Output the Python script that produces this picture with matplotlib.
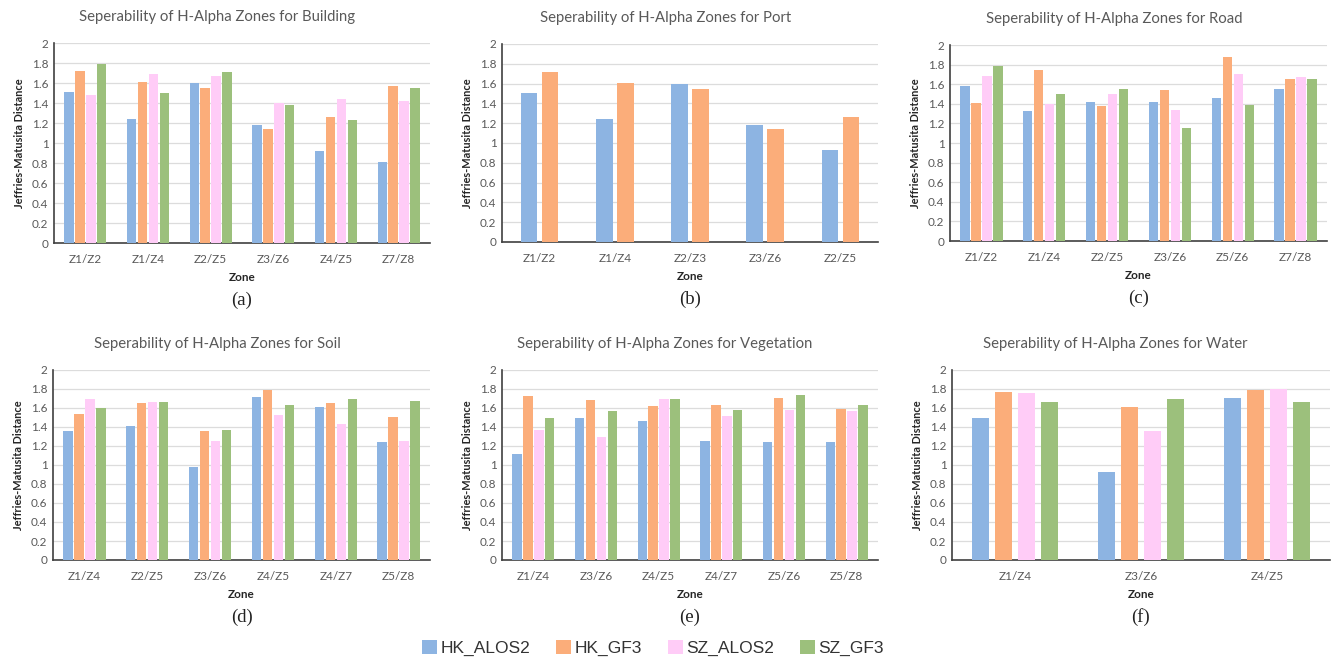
import matplotlib
matplotlib.use("Agg")
import matplotlib.pyplot as plt
import numpy as np
from matplotlib.patches import Patch

SERIES = ["HK_ALOS2", "HK_GF3", "SZ_ALOS2", "SZ_GF3"]
COLORS = ["#8db4e2", "#fbad7a", "#ffccf7", "#9cc07c"]

building_zones = ["Z1/Z2", "Z1/Z4", "Z2/Z5", "Z3/Z6", "Z4/Z5", "Z7/Z8"]
building_hk_alos2 = [1.51, 1.24, 1.60, 1.18, 0.92, 0.81]
building_hk_gf3 = [1.72, 1.61, 1.55, 1.14, 1.26, 1.57]
building_sz_alos2 = [1.48, 1.69, 1.67, 1.40, 1.44, 1.42]
building_sz_gf3 = [1.79, 1.50, 1.71, 1.38, 1.23, 1.55]

port_zones = ["Z1/Z2", "Z1/Z4", "Z2/Z3", "Z3/Z6", "Z2/Z5"]
port_hk_alos2 = [1.51, 1.24, 1.60, 1.18, 0.93]
port_hk_gf3 = [1.72, 1.61, 1.55, 1.14, 1.26]

road_zones = ["Z1/Z2", "Z1/Z4", "Z2/Z5", "Z3/Z6", "Z5/Z6", "Z7/Z8"]
road_hk_alos2 = [1.58, 1.33, 1.42, 1.42, 1.46, 1.55]
road_hk_gf3 = [1.41, 1.74, 1.38, 1.54, 1.88, 1.65]
road_sz_alos2 = [1.68, 1.40, 1.50, 1.34, 1.70, 1.67]
road_sz_gf3 = [1.79, 1.50, 1.55, 1.15, 1.39, 1.65]

soil_zones = ["Z1/Z4", "Z2/Z5", "Z3/Z6", "Z4/Z5", "Z4/Z7", "Z5/Z8"]
soil_hk_alos2 = [1.36, 1.41, 0.98, 1.72, 1.61, 1.24]
soil_hk_gf3 = [1.54, 1.65, 1.36, 1.79, 1.65, 1.51]
soil_sz_alos2 = [1.69, 1.66, 1.25, 1.53, 1.43, 1.25]
soil_sz_gf3 = [1.60, 1.66, 1.37, 1.63, 1.69, 1.67]

veg_zones = ["Z1/Z4", "Z3/Z6", "Z4/Z5", "Z4/Z7", "Z5/Z6", "Z5/Z8"]
veg_hk_alos2 = [1.12, 1.49, 1.46, 1.25, 1.24, 1.24]
veg_hk_gf3 = [1.73, 1.68, 1.62, 1.63, 1.71, 1.59]
veg_sz_alos2 = [1.37, 1.30, 1.70, 1.52, 1.58, 1.57]
veg_sz_gf3 = [1.50, 1.57, 1.70, 1.58, 1.74, 1.63]

water_zones = ["Z1/Z4", "Z3/Z6", "Z4/Z5"]
water_hk_alos2 = [1.49, 0.93, 1.71]
water_hk_gf3 = [1.77, 1.61, 1.79]
water_sz_alos2 = [1.76, 1.36, 1.80]
water_sz_gf3 = [1.66, 1.70, 1.66]

W, H = 1341, 662
TXT = "#595959"
SANS = ["Lato", "DejaVu Sans"]

# (name, zones, series, axes box in px [left, top, right, bottom], title x, caption, bar width, bar step)
PANELS = [
    ("Building", building_zones,
     [building_hk_alos2, building_hk_gf3, building_sz_alos2, building_sz_gf3],
     (54, 43, 430, 243), 217, "(a)", 0.150, 0.175),
    ("Port", port_zones, [port_hk_alos2, port_hk_gf3],
     (502, 44, 878, 242), 666, "(b)", 0.220, 0.280),
    ("Road", road_zones,
     [road_hk_alos2, road_hk_gf3, road_sz_alos2, road_sz_gf3],
     (950, 45, 1327, 241), 1114, "(c)", 0.150, 0.175),
    ("Soil", soil_zones,
     [soil_hk_alos2, soil_hk_gf3, soil_sz_alos2, soil_sz_gf3],
     (53, 370, 430, 560), 217, "(d)", 0.150, 0.175),
    ("Vegetation", veg_zones,
     [veg_hk_alos2, veg_hk_gf3, veg_sz_alos2, veg_sz_gf3],
     (502, 370, 878, 560), 665, "(e)", 0.150, 0.175),
    ("Water", water_zones,
     [water_hk_alos2, water_hk_gf3, water_sz_alos2, water_sz_gf3],
     (952, 370, 1330, 560), 1115, "(f)", 0.135, 0.180),
]

fig = plt.figure(figsize=(W / 100, H / 100), dpi=100)

for name, zones, series, box, tx, cap, bw, step in PANELS:
    l, t, r, b = box
    ax = fig.add_axes([l / W, 1 - b / H, (r - l) / W, (b - t) / H])
    x = np.arange(len(zones))
    n = len(series)
    for i, vals in enumerate(series):
        ax.bar(x + (i - (n - 1) / 2) * step, vals, width=bw, color=COLORS[i], zorder=3)
    ax.set_xlim(-0.5, len(zones) - 0.5)
    ax.set_ylim(0, 2)
    ax.set_yticks(np.arange(0, 2.01, 0.2))
    ax.set_yticklabels(["0", "0.2", "0.4", "0.6", "0.8", "1", "1.2", "1.4", "1.6", "1.8", "2"])
    ax.set_xticks(x)
    ax.set_xticklabels(zones)
    ax.yaxis.grid(True, color="#dcdcdc", linewidth=0.9, zorder=0)
    for s in ["top", "right"]:
        ax.spines[s].set_visible(False)
    for s in ["left", "bottom"]:
        ax.spines[s].set_color("#404040")
        ax.spines[s].set_linewidth(1.2)
    ax.tick_params(axis="y", length=0, labelsize=8.5, labelcolor=TXT, pad=4)
    ax.tick_params(axis="x", length=0, labelsize=8.5, labelcolor=TXT, pad=8)
    for lab in ax.get_xticklabels() + ax.get_yticklabels():
        lab.set_family(SANS)
    ax.set_ylabel("Jeffries-Matusita Distance", fontsize=7.9, fontweight="bold",
                  color="#262626", family=SANS, labelpad=5)
    ax.set_xlabel("Zone", fontsize=8.5, fontweight="bold", color="#262626",
                  family=SANS, labelpad=5)
    fig.text(tx / W, 1 - (t - 26) / H, f"Seperability of H-Alpha Zones for {name}",
             ha="center", va="center", fontsize=10.7, color=TXT, family=SANS)
    fig.text(((l + r) / 2) / W, 1 - (b + 57) / H, cap, ha="center", va="center",
             fontsize=13.5, family=["Liberation Serif", "DejaVu Serif"], color="#222222")

handles = [Patch(facecolor=c, edgecolor="none", label=s) for s, c in zip(SERIES, COLORS)]
fig.legend(handles=handles, loc="center", bbox_to_anchor=(653 / W, 1 - 648 / H), ncol=4,
           frameon=False, prop={"family": ["Liberation Sans", "DejaVu Sans"], "size": 12.5},
           handlelength=0.85, handleheight=0.85, handletextpad=0.2, columnspacing=1.5,
           labelcolor="#333333")

fig.savefig("out.png", dpi=100)
